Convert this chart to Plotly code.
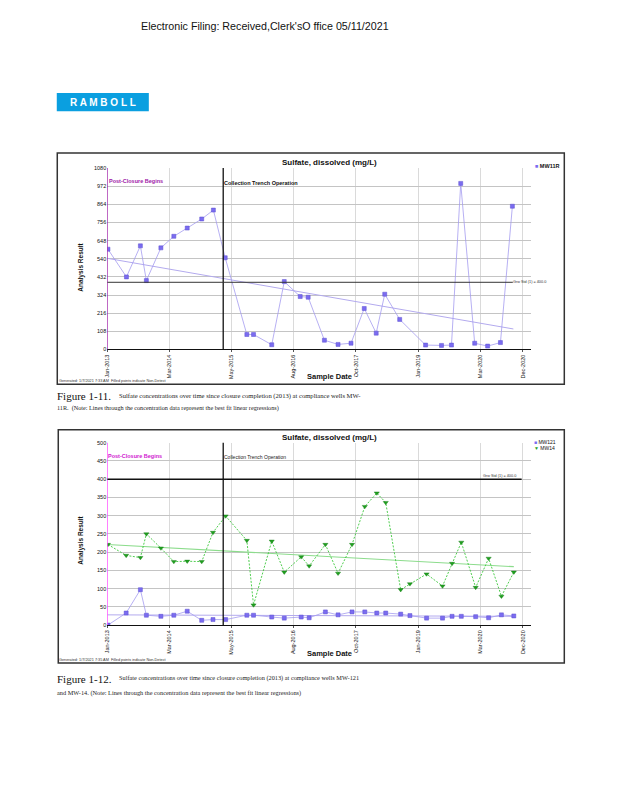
import plotly.graph_objects as go

W, H = 618, 800
OX, OY = 10, 10  # page offset of the figure inside the browser page


def px(x):
    return (x - OX) / W


def py(y):
    return 1 - (y - OY) / H


# ---------------- data ----------------
X_TICK_DATES = ["2013-01-01", "2014-03-14", "2015-05-23", "2016-08-03", "2017-10-14",
                "2018-12-26", "2020-03-08", "2020-12-31"]
X_TICK_LABELS = ["Jan-2013", "Mar-2014", "May-2015", "Aug-2016", "Oct-2017",
                 "Jan-2019", "Mar-2020", "Dec-2020"]
X_RANGE = ["2013-01-01", "2021-03-01"]

Y1_TICKS = [0, 108, 216, 324, 432, 540, 648, 756, 864, 972, 1080]
Y2_TICKS = [0, 50, 100, 150, 200, 250, 300, 350, 400, 450, 500]

POST_CLOSURE_DATE = "2013-01-01"
TRENCH_DATE = "2015-03-27"

# Chart 1: MW11R
MW11R_DATES = ["2013-01-06", "2013-05-16", "2013-08-22", "2013-10-03", "2014-01-13",
               "2014-04-14", "2014-07-17", "2014-10-27", "2015-01-17", "2015-04-10",
               "2015-09-09", "2015-10-26", "2016-03-02", "2016-05-29", "2016-09-18",
               "2016-11-13", "2017-03-07", "2017-06-11", "2017-09-10", "2017-12-12",
               "2018-03-06", "2018-05-05", "2018-08-18", "2019-02-16", "2019-06-08",
               "2019-08-17", "2019-10-21", "2020-01-27", "2020-04-27", "2020-07-26",
               "2020-10-18"]
MW11R_VALUES = [597, 432, 617, 410, 605, 674, 723, 777, 830, 546,
                89, 89, 28, 404, 315, 311, 55, 30, 37, 244,
                97, 329, 179, 26, 24, 26, 989, 37, 20, 41, 853]
MW11R_TREND_DATES = ["2013-01-06", "2020-10-25"]
MW11R_TREND_VALUES = [542, 122]
STD1_DATES = ["2013-01-01", "2020-10-21"]
STD1_VALUES = [400, 400]

# Chart 2: MW121 and MW14
C2_DATES = ["2013-01-06", "2013-05-14", "2013-08-22", "2013-10-03", "2014-01-13",
            "2014-04-14", "2014-07-17", "2014-10-27", "2015-01-14", "2015-04-13",
            "2015-09-09", "2015-10-26", "2016-03-02", "2016-05-29", "2016-09-25",
            "2016-11-20", "2017-03-14", "2017-06-11", "2017-09-17", "2017-12-16",
            "2018-03-10", "2018-05-12", "2018-08-25", "2018-10-29", "2019-02-23",
            "2019-06-15", "2019-08-21", "2019-10-25", "2020-02-03", "2020-05-04",
            "2020-08-02", "2020-10-28"]
MW121_VALUES = [0, 33, 97, 27, 24, 27, 38, 13, 15, 15,
                27, 27, 22, 19, 22, 20, 36, 28, 36, 36,
                33, 33, 30, 26, 19, 19, 24, 24, 23, 20, 28, 25]
MW14_VALUES = [221, 191, 185, 250, 211, 174, 175, 174, 254, 299,
               232, 55, 230, 145, 187, 162, 221, 142, 221, 325,
               362, 336, 97, 113, 140, 107, 169, 227, 103, 183, 79, 145]
C2_TREND_DATES = ["2013-01-01", "2020-10-28"]
MW121_TREND_VALUES = [28, 24]
MW14_TREND_VALUES = [221, 160]
STD2_DATES = ["2013-01-01", "2020-12-22"]
STD2_VALUES = [400, 400]

# ---------------- styling ----------------
FONT = "Liberation Sans, Arial, sans-serif"
SERIF = "Liberation Serif, Times New Roman, serif"
PURPLE_MK = "#7b6cf0"
PURPLE_LN = "#a59cf0"
TREND_PURPLE = "#b3aaee"
GREEN_MK = "#1f9f1f"
GREEN_LN = "#3cc83c"
TREND_GREEN = "#8cdc8c"

X_DOMAIN = [px(106.7), px(533)]
Y1_DOMAIN = [py(351), py(168.3)]
Y2_DOMAIN = [py(628.7), py(445)]

fig = go.Figure()

# chart 1
fig.add_trace(go.Scatter(x=MW11R_TREND_DATES, y=MW11R_TREND_VALUES, mode="lines",
                         line=dict(color=TREND_PURPLE, width=1), showlegend=False,
                         xaxis="x", yaxis="y", hoverinfo="skip"))
fig.add_trace(go.Scatter(x=MW11R_DATES, y=MW11R_VALUES, mode="lines+markers", name="MW11R",
                         line=dict(color=PURPLE_LN, width=0.8),
                         marker=dict(symbol="square", size=4, color=PURPLE_MK,
                                     line=dict(color="#5b4fd0", width=0.5)),
                         showlegend=False, xaxis="x", yaxis="y"))

# chart 2
fig.add_trace(go.Scatter(x=C2_TREND_DATES, y=MW121_TREND_VALUES, mode="lines",
                         line=dict(color=TREND_PURPLE, width=1), showlegend=False,
                         xaxis="x2", yaxis="y2", hoverinfo="skip"))
fig.add_trace(go.Scatter(x=C2_TREND_DATES, y=MW14_TREND_VALUES, mode="lines",
                         line=dict(color=TREND_GREEN, width=1.2), showlegend=False,
                         xaxis="x2", yaxis="y2", hoverinfo="skip"))
fig.add_trace(go.Scatter(x=C2_DATES, y=MW121_VALUES, mode="lines+markers", name="MW121",
                         line=dict(color=PURPLE_LN, width=0.8),
                         marker=dict(symbol="square", size=4, color=PURPLE_MK,
                                     line=dict(color="#5b4fd0", width=0.5)),
                         showlegend=False, xaxis="x2", yaxis="y2"))
fig.add_trace(go.Scatter(x=C2_DATES, y=MW14_VALUES, mode="lines+markers", name="MW14",
                         line=dict(color=GREEN_LN, width=0.9, dash="2px,1.5px"),
                         marker=dict(symbol="triangle-down", size=4.5, color=GREEN_MK,
                                     line=dict(color="#137a13", width=0.4)),
                         showlegend=False, xaxis="x2", yaxis="y2"))

xcommon = dict(type="date", range=X_RANGE, tickvals=X_TICK_DATES, ticktext=X_TICK_LABELS,
               tickangle=-90, tickfont=dict(family=FONT, size=5.5, color="#111"),
               showgrid=True, gridcolor="#dadada", gridwidth=0.8,
               showline=True, linecolor="#111", linewidth=1, ticks="outside", ticklen=2,
               tickcolor="#555", zeroline=False, domain=X_DOMAIN)
ycommon = dict(tickfont=dict(family=FONT, size=5.5, color="#111"), showgrid=True,
               gridcolor="#c4c4c4", gridwidth=0.8, showline=False, zeroline=False,
               ticks="")

fig.update_layout(
    width=W, height=H, margin=dict(l=0, r=0, t=0, b=0), autosize=False,
    paper_bgcolor="white", plot_bgcolor="white", showlegend=False,
    font=dict(family=FONT),
    xaxis=dict(**xcommon, anchor="y"),
    yaxis=dict(**ycommon, domain=Y1_DOMAIN, range=[0, 1080], tickvals=Y1_TICKS,
               ticktext=[str(v) for v in Y1_TICKS], anchor="x"),
    xaxis2=dict(**xcommon, anchor="y2"),
    yaxis2=dict(**ycommon, domain=Y2_DOMAIN, range=[0, 500], tickvals=Y2_TICKS,
                ticktext=[str(v) for v in Y2_TICKS], anchor="x2"),
)

shapes = []
# chart frames
shapes.append(dict(type="rect", xref="paper", yref="paper", x0=px(56.5), x1=px(566),
                   y0=py(386), y1=py(153), line=dict(color="#333", width=1.5)))
shapes.append(dict(type="rect", xref="paper", yref="paper", x0=px(57.5), x1=px(566),
                   y0=py(667), y1=py(432), line=dict(color="#333", width=1.5)))
# logo
shapes.append(dict(type="rect", xref="paper", yref="paper", x0=px(56), x1=px(148.5),
                   y0=py(111), y1=py(92.5), fillcolor="#0a9fe0", line=dict(width=0)))
# vertical event lines
shapes.append(dict(type="line", xref="x", yref="y domain", x0=POST_CLOSURE_DATE,
                   x1=POST_CLOSURE_DATE, y0=0, y1=1, line=dict(color="#a020a8", width=1.3)))
shapes.append(dict(type="line", xref="x", yref="y domain", x0=TRENCH_DATE, x1=TRENCH_DATE,
                   y0=0, y1=1, line=dict(color="#111", width=1.3)))
shapes.append(dict(type="line", xref="x2", yref="y2 domain", x0=POST_CLOSURE_DATE,
                   x1=POST_CLOSURE_DATE, y0=0, y1=1, line=dict(color="#ff44ff", width=1.3)))
shapes.append(dict(type="line", xref="x2", yref="y2 domain", x0=TRENCH_DATE, x1=TRENCH_DATE,
                   y0=0, y1=1, line=dict(color="#111", width=1.3)))
# standard lines
shapes.append(dict(type="line", xref="x", yref="y", x0=STD1_DATES[0], x1=STD1_DATES[1],
                   y0=STD1_VALUES[0], y1=STD1_VALUES[1], line=dict(color="#333", width=1)))
shapes.append(dict(type="line", xref="x2", yref="y2", x0=STD2_DATES[0], x1=STD2_DATES[1],
                   y0=STD2_VALUES[0], y1=STD2_VALUES[1], line=dict(color="#111", width=1.5)))
fig.update_layout(shapes=shapes)

ann = []
PAD = 3  # annotation inner padding


def text(x, y, t, size, color="#111", xanchor="left", family=FONT, weight="normal",
         textangle=0):
    if xanchor == "left":
        x = x - PAD
    ann.append(dict(xref="paper", yref="paper", x=px(x), y=py(y), text=t, showarrow=False,
                    xanchor=xanchor, yanchor="middle", textangle=textangle,
                    font=dict(family=family, size=size, color=color, weight=weight)))


# page header
text(142, 25.5, "Electronic Filing: Received,Clerk'sO ffice 05/11/2021", 10.7, "#111")
text(102.5, 102, "R A M B O L L", 10, "white", xanchor="center", weight="bold")

# chart 1 texts
text(330, 162.5, "Sulfate, dissolved (mg/L)", 8, "#111", xanchor="center", weight="bold")
text(80, 268, "Analysis Result", 6.5, "#111", xanchor="center", weight="bold", textangle=-90)
text(330, 378.5, "Sample Date", 7.5, "#111", xanchor="center", weight="bold")
text(109, 181, "Post-Closure Begins", 5.5, "#a020a8", weight="bold")
text(225.5, 183, "Collection Trench Operation", 5.5, "#111", weight="bold")
text(515.5, 283, "Grw Std (1) = 400.0", 3.8, "#333")
text(538, 166.5, "<span style='color:%s'>■</span> MW11R" % PURPLE_MK, 5.5, "#111",
     weight="bold")
text(59, 383, "Generated: 1/7/2021 7:33 AM  Filled points indicate Non-Detect", 3.8, "#333")

# chart 2 texts
text(330, 440, "Sulfate, dissolved (mg/L)", 8, "#111", xanchor="center", weight="bold")
text(80, 543, "Analysis Result", 6.5, "#111", xanchor="center", weight="bold", textangle=-90)
text(330, 657.5, "Sample Date", 7.5, "#111", xanchor="center", weight="bold")
text(108, 458, "Post-Closure Begins", 5.5, "#d020d0", weight="bold")
text(225, 459.5, "Collection Trench Operation", 5, "#222")
text(485, 478.5, "Grw Std (1) = 400.0", 3.8, "#333")
text(537, 444.5, "<span style='color:%s'>■</span> MW121" % PURPLE_MK, 5, "#111")
text(537, 450.5, "<span style='color:%s'>▼</span> MW14" % GREEN_MK, 5, "#111")
text(59, 663.5, "Generated: 1/7/2021 7:35 AM  Filled points indicate Non-Detect", 3.8, "#333")

# captions
text(57, 398, "Figure 1-11.", 11, "#111", family=SERIF)
text(120, 398, "Sulfate concentrations over time since closure completion (2013) at compliance wells MW-",
     6.6, "#222", family=SERIF)
text(57, 410, "11R.  (Note: Lines through the concentration data represent the best fit linear regressions)",
     6.2, "#222", family=SERIF)
text(57, 683, "Figure 1-12.", 11, "#111", family=SERIF)
text(120, 682.5, "Sulfate concentrations over time since closure completion (2013) at compliance wells MW-121",
     6.3, "#222", family=SERIF)
text(57, 697, "and MW-14. (Note: Lines through the concentration data represent the best fit linear regressions)",
     6.3, "#222", family=SERIF)

fig.update_layout(annotations=ann)
fig.write_html("out.html")
